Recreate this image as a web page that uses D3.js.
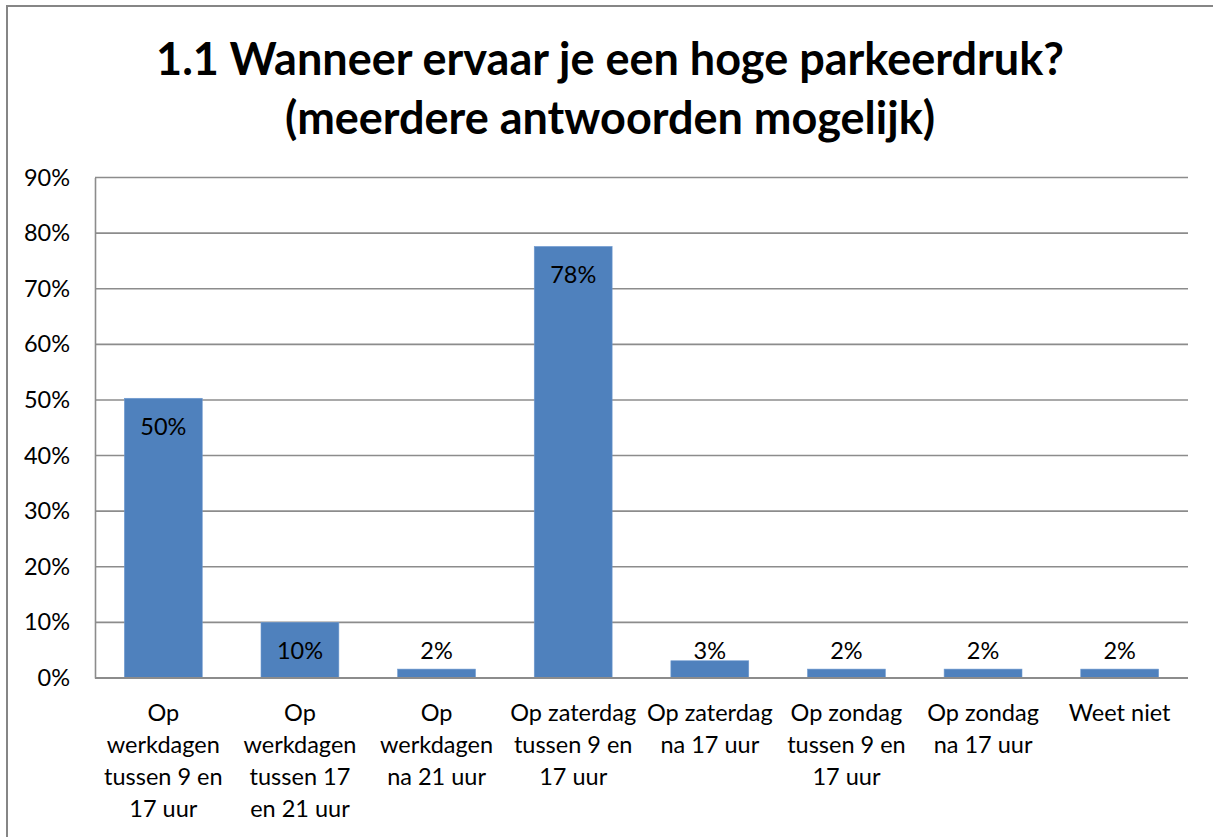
<!DOCTYPE html>
<html>
<head>
<meta charset="utf-8">
<script src="https://cdn.jsdelivr.net/npm/d3@7"></script>
<style>
  body { margin: 0; background: #fff; }
  svg { display: block; font-family: Lato, "Open Sans", sans-serif; }
</style>
</head>
<body>
<svg width="1213" height="837"></svg>
<script>
var categories = [
  "Op\nwerkdagen\ntussen 9 en\n17 uur",
  "Op\nwerkdagen\ntussen 17\nen 21 uur",
  "Op\nwerkdagen\nna 21 uur",
  "Op zaterdag\ntussen 9 en\n17 uur",
  "Op zaterdag\nna 17 uur",
  "Op zondag\ntussen 9 en\n17 uur",
  "Op zondag\nna 17 uur",
  "Weet niet"
];
var values = [0.503, 0.100, 0.016, 0.776, 0.031, 0.016, 0.016, 0.016];
var valueLabels = ["50%", "10%", "2%", "78%", "3%", "2%", "2%", "2%"];
var yTicks = [0, 0.1, 0.2, 0.3, 0.4, 0.5, 0.6, 0.7, 0.8, 0.9];
var titleLines = ["1.1 Wanneer ervaar je een hoge parkeerdruk?", "(meerdere antwoorden mogelijk)"];

var svg = d3.select("svg"),
    plotLeft = 95, plotRight = 1188, plotTop = 177.5, plotBottom = 678;

// outer chart border (runs off the right and bottom edge)
svg.append("rect")
    .attr("x", 7).attr("y", 6)
    .attr("width", 1240).attr("height", 860)
    .attr("fill", "none")
    .attr("stroke", "#868686")
    .attr("stroke-width", 2);

svg.selectAll("text.title")
  .data(titleLines)
  .enter().append("text")
    .attr("class", "title")
    .attr("x", 610)
    .attr("y", function(d, i) { return 75 + i * 59; })
    .attr("text-anchor", "middle")
    .style("font-size", "45px")
    .style("font-weight", "bold")
    .text(function(d) { return d; });

var x = d3.scaleBand()
    .domain(d3.range(categories.length))
    .range([plotLeft, plotRight])
    .paddingInner(0.43)
    .paddingOuter(0.215);

var y = d3.scaleLinear()
    .domain([0, 0.9])
    .range([plotBottom, plotTop]);

// gridlines
svg.append("g")
  .selectAll("line")
  .data(yTicks.slice(1))
  .enter().append("line")
    .attr("x1", plotLeft).attr("x2", plotRight)
    .attr("y1", function(d) { return y(d); })
    .attr("y2", function(d) { return y(d); })
    .attr("stroke", "#8c8c8c")
    .attr("stroke-width", 1.6);

var yAxis = svg.append("g")
    .attr("transform", "translate(" + plotLeft + ",0)")
    .call(d3.axisLeft(y).tickValues(yTicks).tickFormat(d3.format(".0%")).tickSize(0).tickPadding(25));
yAxis.select(".domain").attr("stroke", "#8c8c8c").attr("stroke-width", 1.6);
yAxis.selectAll("text")
    .attr("fill", "#000")
    .style("font-size", "23.5px")
    .style("font-family", "Lato, sans-serif");

svg.append("g")
  .selectAll("rect")
  .data(values)
  .enter().append("rect")
    .attr("x", function(d, i) { return x(i); })
    .attr("y", function(d) { return y(d); })
    .attr("width", x.bandwidth())
    .attr("height", function(d) { return plotBottom - y(d); })
    .attr("fill", "#4f81bd")
    .attr("stroke", "#6f9ad0")
    .attr("stroke-width", 0.6);

// x baseline
svg.append("line")
    .attr("x1", plotLeft).attr("x2", plotRight)
    .attr("y1", plotBottom).attr("y2", plotBottom)
    .attr("stroke", "#8c8c8c")
    .attr("stroke-width", 2);

svg.append("g")
  .selectAll("text")
  .data(values)
  .enter().append("text")
    .attr("x", function(d, i) { return x(i) + x.bandwidth() / 2; })
    .attr("y", function(d) { return Math.min(y(d) + 29, plotBottom - 27) + 8; })
    .attr("text-anchor", "middle")
    .style("font-size", "23.5px")
    .text(function(d, i) { return valueLabels[i]; });

var catLabel = svg.append("g")
  .selectAll("text")
  .data(categories)
  .enter().append("text")
    .attr("text-anchor", "middle")
    .attr("transform", function(d, i) { return "translate(" + (x(i) + x.bandwidth() / 2) + ",721)"; })
    .style("font-size", "23.5px");

catLabel.selectAll("tspan")
  .data(function(d) { return d.split("\n"); })
  .enter().append("tspan")
    .attr("x", 0)
    .attr("y", function(d, i) { return i * 32; })
    .text(function(d) { return d; });
</script>
</body>
</html>
